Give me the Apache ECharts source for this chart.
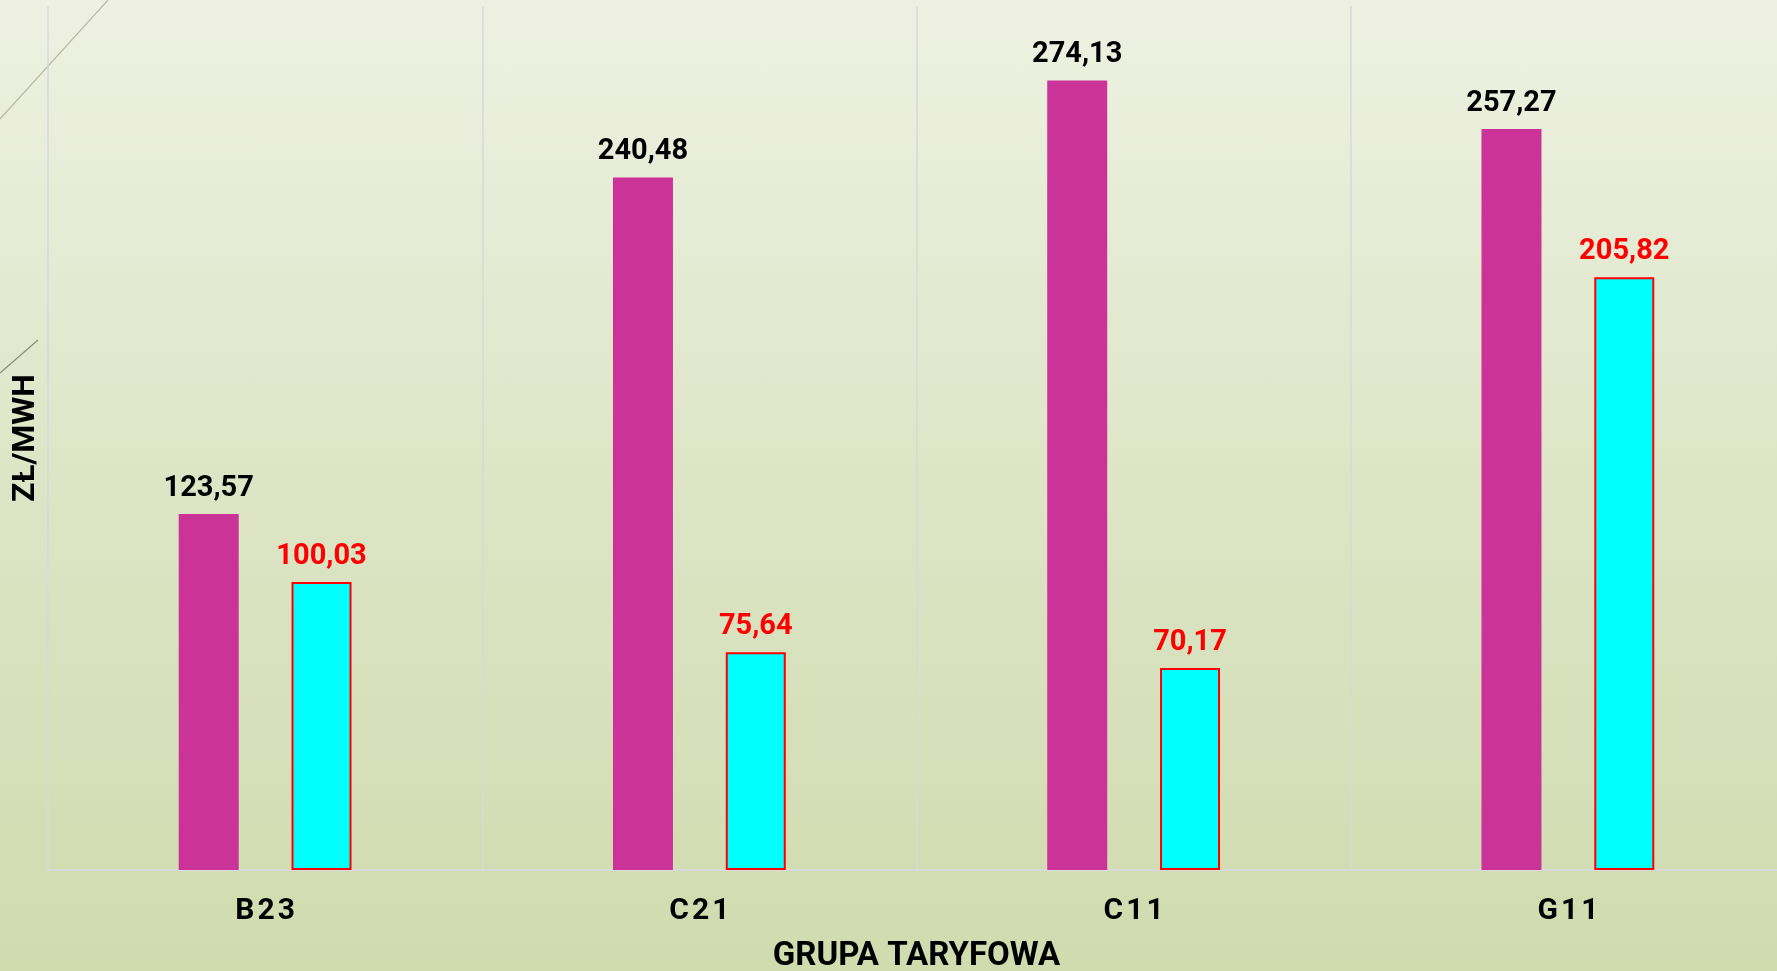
<!DOCTYPE html>
<html lang="pl">
  <head>
    <meta charset="UTF-8" />
    <title>Grupa taryfowa</title>
    <script src="https://cdn.jsdelivr.net/npm/echarts@6/dist/echarts.min.js"></script>
    <style>
      html,
      body {
        margin: 0;
        padding: 0;
        width: 1777px;
        height: 971px;
        overflow: hidden;
      }
      #chart {
        width: 1777px;
        height: 971px;
        background: linear-gradient(to bottom, #eef1e2 0%, #dde5c6 50%, #d0dbae 100%);
      }
    </style>
  </head>
  <body>
    <div id="chart"></div>
    <script>
      // dane
      var categories = ['B23', 'C21', 'C11', 'G11'];
      var seriesA = [123.57, 240.48, 274.13, 257.27];
      var seriesB = [100.03, 75.64, 70.17, 205.82];

      var fmt = function (p) {
        return p.value.toFixed(2).replace('.', ',');
      };

      var chart = echarts.init(document.getElementById('chart'));
      chart.setOption({
        animation: false,
        grid: { left: 48, right: -8, top: 6, bottom: 101, containLabel: false, outerBoundsMode: 'none' },
        graphic: [
          // ozdobne linie tla
          { type: 'line', shape: { x1: 0, y1: 119, x2: 108, y2: 0 }, style: { stroke: '#b9b9a6', lineWidth: 1.2 }, z: -1 },
          { type: 'line', shape: { x1: 0, y1: 373, x2: 38, y2: 340 }, style: { stroke: '#8a8a78', lineWidth: 1.2 }, z: -1 }
        ],
        xAxis: {
          type: 'category',
          data: categories,
          name: 'GRUPA TARYFOWA',
          nameLocation: 'middle',
          nameGap: 70,
          nameTextStyle: { fontFamily: 'Roboto', fontWeight: 'bold', fontSize: 33, color: '#000' },
          axisLine: { lineStyle: { color: '#d9d9d9', width: 2 } },
          axisTick: { show: false },
          axisLabel: {
            margin: 26,
            fontFamily: 'Roboto',
            fontWeight: 'bold',
            fontSize: 30,
            color: '#000',
            formatter: function (v) {
              return v.split('').join('\u200a');
            }
          },
          splitLine: { show: true, lineStyle: { color: '#d9d9d9', width: 1.5 } }
        },
        yAxis: {
          type: 'value',
          min: 0,
          max: 300,
          name: 'ZŁ/MWH',
          nameLocation: 'middle',
          nameGap: 6,
          nameTextStyle: { fontFamily: 'Roboto', fontWeight: 'bold', fontSize: 32, color: '#000' },
          axisLine: { show: false },
          axisTick: { show: false },
          axisLabel: { show: false },
          splitLine: { show: false }
        },
        series: [
          {
            type: 'bar',
            data: seriesA,
            barWidth: 60,
            barGap: '88%',
            itemStyle: { color: '#cc3399' },
            label: {
              show: true,
              position: 'top',
              distance: 11,
              formatter: fmt,
              fontFamily: 'Roboto',
              fontWeight: 'bold',
              fontSize: 29,
              color: '#000'
            }
          },
          {
            type: 'bar',
            data: seriesB,
            barWidth: 60,
            itemStyle: { color: '#00ffff', borderColor: '#ff0000', borderWidth: 2 },
            label: {
              show: true,
              position: 'top',
              distance: 11,
              formatter: fmt,
              fontFamily: 'Roboto',
              fontWeight: 'bold',
              fontSize: 29,
              color: '#ff0000'
            }
          }
        ]
      });
    </script>
  </body>
</html>
